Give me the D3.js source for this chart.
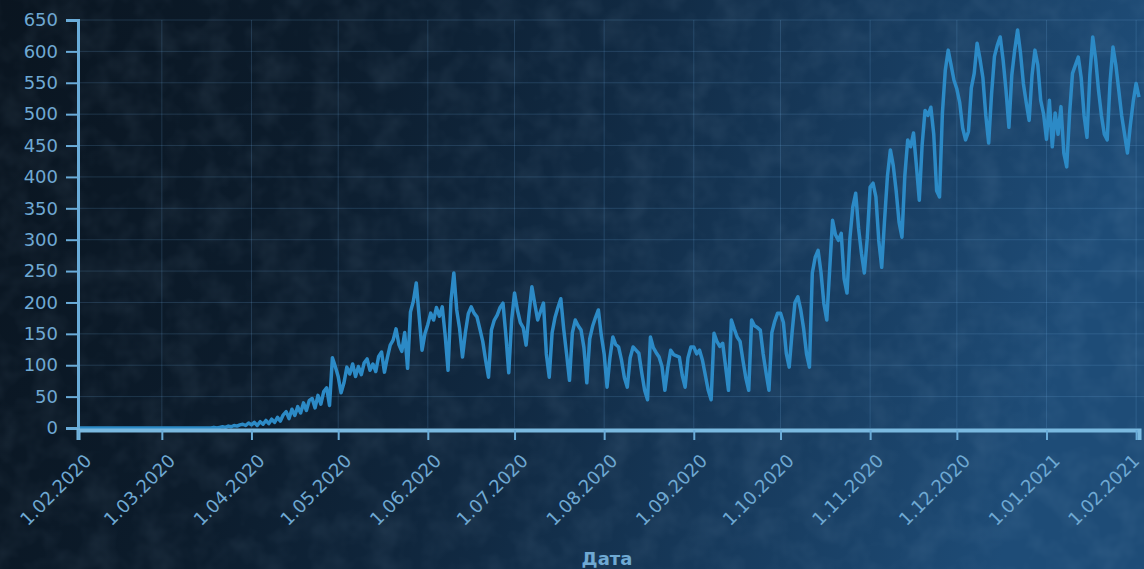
<!DOCTYPE html>
<html><head><meta charset="utf-8">
<script src="https://cdn.jsdelivr.net/npm/d3@7"></script>
<style>html,body{margin:0;padding:0;background:#0b1724;overflow:hidden}</style>
</head><body><svg id="c" width="1144" height="569"></svg>
<script>
const startDate = "2020-02-01";
const endDate = "2021-02-02";
const feb2020 = [0,0,0,0,0,0,0,0,0,0,0,0,0,0,0,0,0,0,0,0,0,0,0,0,0,0,0,0,0];
const mar2020 = [0,0,0,0,0,0,0,0,0,0,0,0,0,0,0,0,0,0,1,0,1,2,1,3,2,4,3,5,6,4,8];
const apr2020 = [5,9,4,10,6,12,7,14,9,17,11,21,26,15,30,20,34,24,40,28,44,47,32,52,38,58,64,36,112,98];
const may2020 = [82,56,72,97,86,102,82,98,85,104,110,92,102,90,114,121,89,112,132,140,158,133,122,152,95,185,202,231,178,124,150];
const jun2020 = [165,183,172,192,178,193,148,92,202,247,188,158,113,152,182,193,183,177,158,138,108,81,156,172,180,192,199,148,88,172];
const jul2020 = [215,188,168,160,132,182,225,198,172,186,199,118,81,152,176,192,206,158,118,76,152,172,163,156,128,72,142,162,176,188,148];
const aug2020 = [118,65,112,145,133,129,108,80,65,112,129,124,119,88,60,45,145,128,120,113,98,60,96,124,117,115,113,84,65,112,129];
const sep2020 = [129,118,124,108,84,60,45,151,138,130,135,98,60,172,158,145,138,108,80,60,172,163,160,156,118,88,60,152,170,183];
const oct2020 = [183,168,119,97,152,200,209,188,158,118,97,247,272,283,248,198,172,252,331,308,299,310,238,215,302,352,374,318,278,247,302];
const nov2020 = [384,390,368,298,256,332,402,443,418,378,328,304,402,459,448,470,418,363,452,506,498,511,468,378,368,502,570,602,578,554];
const dec2020 = [540,518,478,459,472,542,565,613,588,558,498,454,532,592,610,623,586,538,479,562,602,634,598,549,518,490,562,602,578,522,500];
const jan2021 = [460,522,448,502,468,512,438,416,502,565,578,591,558,498,463,562,623,588,538,498,468,459,552,607,578,538,498,468,438,482,520];
const feb2021 = [549,527];
const yTicks = [0,50,100,150,200,250,300,350,400,450,500,550,600,650];
const xTicks = ["2020-02-01","2020-03-01","2020-04-01","2020-05-01","2020-06-01","2020-07-01","2020-08-01","2020-09-01","2020-10-01","2020-11-01","2020-12-01","2021-01-01","2021-02-01"];
const xTitle = "Дата";

const values = [].concat(feb2020, mar2020, apr2020, may2020, jun2020, jul2020, aug2020, sep2020, oct2020, nov2020, dec2020, jan2021, feb2021);
const parse = d3.utcParse("%Y-%m-%d");
const t0 = parse(startDate);
const data = values.map((v, i) => ({date: d3.utcDay.offset(t0, i), value: v}));

const W = 1144, H = 569;
const svg = d3.select("#c");
const defs = svg.append("defs");
const grad = defs.append("linearGradient").attr("id", "bg").attr("x1", "0").attr("y1", "0").attr("x2", "1").attr("y2", "0.15");
[["0%", "#0a1520"], ["30%", "#0c1c2c"], ["55%", "#112a43"], ["75%", "#173a5c"], ["100%", "#1e4c77"]].forEach(s =>
  grad.append("stop").attr("offset", s[0]).attr("stop-color", s[1]));
const f = defs.append("filter").attr("id", "noise").attr("x", 0).attr("y", 0).attr("width", "100%").attr("height", "100%");
f.append("feTurbulence").attr("type", "fractalNoise").attr("baseFrequency", "0.035").attr("numOctaves", 3).attr("seed", 4);
f.append("feColorMatrix").attr("type", "matrix").attr("values", "0 0 0 0 0.5  0 0 0 0 0.7  0 0 0 0 0.9  0 0 0 1.2 -0.45");

svg.append("rect").attr("width", W).attr("height", H).attr("fill", "url(#bg)");
svg.append("rect").attr("width", W).attr("height", H).attr("filter", "url(#noise)").attr("opacity", 0.12);

const x = d3.scaleUtc().domain([parse(startDate), parse(endDate)]).range([78, 1139]);
const y = d3.scaleLinear().domain([0, 650]).range([428, 20]);

const gridColor = "rgba(110,170,220,0.2)";
svg.append("g").selectAll("line").data(yTicks.slice(1)).join("line")
  .attr("x1", 78).attr("x2", 1144).attr("y1", d => y(d)).attr("y2", d => y(d))
  .attr("stroke", gridColor).attr("stroke-width", 1);
svg.append("g").selectAll("line").data(xTicks.slice(1)).join("line")
  .attr("x1", d => x(parse(d))).attr("x2", d => x(parse(d))).attr("y1", y(650)).attr("y2", y(0))
  .attr("stroke", gridColor).attr("stroke-width", 1);

const axisColor = "#6aacd9";
const labelColor = "#6fa9d3";

const line = d3.line().x(d => x(d.date)).y(d => y(d.value)).curve(d3.curveLinear);
svg.append("path").datum(data).attr("d", line).attr("fill", "none")
  .attr("stroke", "#2c8ac6").attr("stroke-width", 3.5).attr("stroke-linejoin", "round");

const yAxis = svg.append("g").attr("transform", "translate(78,0)")
  .call(d3.axisLeft(y).tickValues(yTicks).tickSize(12).tickPadding(8).tickFormat(d3.format("d")));
yAxis.select(".domain").attr("stroke", axisColor).attr("stroke-width", 3);
yAxis.selectAll(".tick line").attr("stroke", axisColor).attr("stroke-width", 2);
yAxis.selectAll("text").attr("fill", labelColor).style("font-family", "'DejaVu Sans', sans-serif").style("font-size", "18px");

const xAxis = svg.append("g").attr("transform", "translate(0,430)")
  .call(d3.axisBottom(x).tickValues(xTicks.map(parse)).tickSize(10).tickFormat(d3.utcFormat("%-d.%m.%Y")));
xAxis.select(".domain").attr("stroke", "#7ab9e0").attr("stroke-width", 4);
xAxis.selectAll(".tick line").attr("stroke", axisColor).attr("stroke-width", 2);
const nX = xTicks.length;
xAxis.selectAll("text").attr("fill", labelColor)
  .style("font-family", "'DejaVu Sans', sans-serif").style("font-size", "18px")
  .attr("text-anchor", "end").attr("y", 0).attr("dy", 0)
  .attr("transform", (d, i) => i === nX - 1 ? "translate(4,32) rotate(-45)" : "translate(14,32) rotate(-45)");

svg.append("text").attr("x", 607).attr("y", 565).attr("text-anchor", "middle")
  .attr("fill", labelColor).style("font-family", "'DejaVu Sans', sans-serif")
  .style("font-size", "18px").style("font-weight", "bold").text(xTitle);
</script></body></html>
